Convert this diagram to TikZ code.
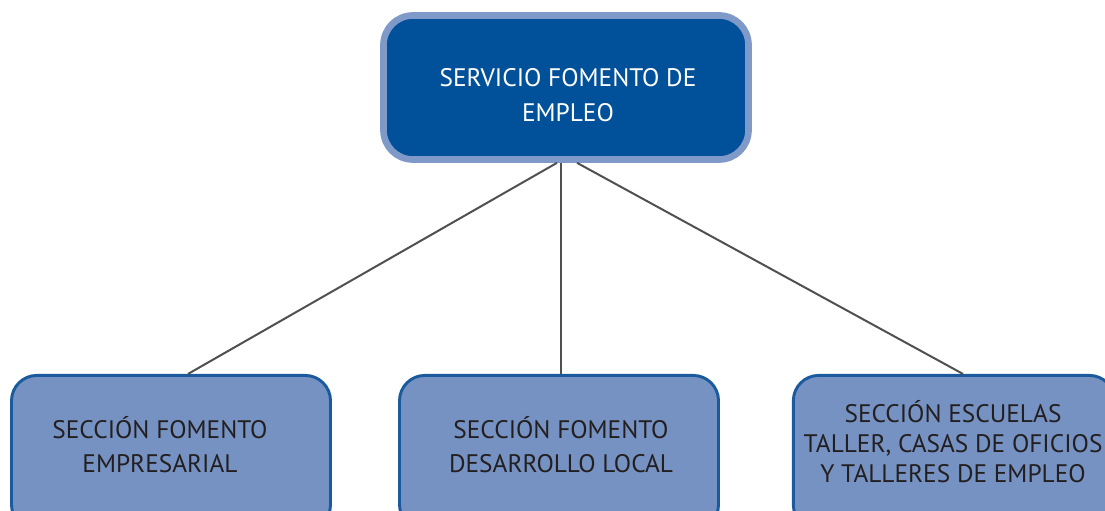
\documentclass[tikz,border=0pt]{standalone}
\usepackage{fontspec}
\setmainfont{PT Sans}
\definecolor{topfill}{HTML}{00519A}
\definecolor{toprim}{HTML}{7F9AC8}
\definecolor{secfill}{HTML}{7592C2}
\definecolor{secrim}{HTML}{1B5B9D}
\definecolor{wire}{HTML}{505050}
\definecolor{ink}{HTML}{231F20}
\begin{document}
\begin{tikzpicture}[x=0.75pt,y=-0.75pt,
  topbox/.style={draw=toprim,fill=topfill,line width=5pt,rounded corners=22pt,
    minimum width=273.75pt,minimum height=108pt,inner sep=0pt,outer sep=0pt},
  secbox/.style={draw=secrim,fill=secfill,line width=2.2pt,rounded corners=19pt,
    minimum height=116pt,inner sep=0pt,outer sep=0pt},
  toptext/.style={text=white,align=center,font=\fontsize{19}{26}\selectfont},
  sectext/.style={text=ink,align=center,font=\fontsize{19}{25.5}\selectfont}]

\useasboundingbox (0,0) rectangle (1105,510);

% boxes
\node[topbox] (serv) at (566,87.5) {};
\node[secbox,minimum width=239.25pt] (emp) at (171,452.75) {};
\node[secbox,minimum width=239.25pt] (loc) at (559,452.75) {};
\node[secbox,minimum width=241pt] (esc) at (954,452.75) {};

% texts
\node[toptext] (servtxt) at (568,95) {SERVICIO FOMENTO DE\\EMPLEO};
\node[sectext] (emptxt) at (160,445) {SECCIÓN FOMENTO\\EMPRESARIAL};
\node[sectext] (loctxt) at (561,445) {SECCIÓN FOMENTO\\DESARROLLO LOCAL};
\node[sectext,font=\fontsize{19}{22.5}\selectfont] (esctxt) at (953,442)
  {SECCIÓN ESCUELAS\\TALLER, CASAS DE OFICIOS\\Y TALLERES DE EMPLEO};

% connectors
\begin{scope}[wire,line width=1.5pt]
\draw ([xshift=-6.75pt,yshift=-2.5pt]serv.south) -- ([xshift=12.75pt,yshift=1.1pt]emp.north);
\draw ([xshift=-3.75pt,yshift=-2.5pt]serv.south) -- ([xshift=1.5pt,yshift=1.1pt]loc.north);
\draw ([xshift=8.25pt,yshift=-2.5pt]serv.south) -- ([xshift=6.75pt,yshift=1.1pt]esc.north);
\end{scope}

\end{tikzpicture}
\end{document}
